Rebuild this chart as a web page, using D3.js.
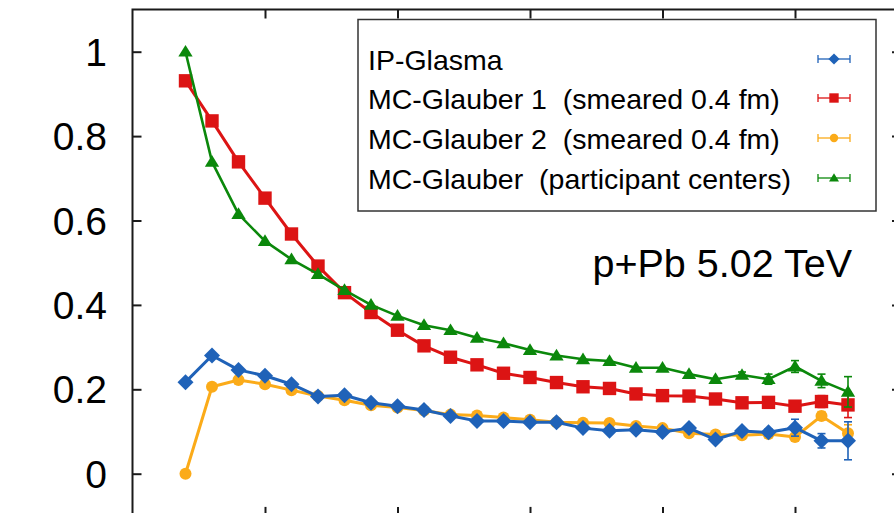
<!DOCTYPE html>
<html>
<head>
<meta charset="utf-8">
<script src="https://cdn.jsdelivr.net/npm/d3@7"></script>
<style>
  html, body { margin: 0; padding: 0; background: #fff; }
  svg { display: block; font-family: "Liberation Sans", Arial, Helvetica, sans-serif; }
</style>
</head>
<body>
<svg id="chart" width="894" height="513"></svg>
<script>
// Multiplicity bins along the horizontal axis
const bins = [2, 3, 4, 5, 6, 7, 8, 9, 10, 11, 12, 13, 14, 15, 16, 17, 18, 19, 20, 21, 22, 23, 24, 25, 26, 27];

const ipGlasma = [0.217, 0.280, 0.246, 0.232, 0.212, 0.183, 0.186, 0.168, 0.160, 0.151, 0.137, 0.125, 0.125, 0.122, 0.122, 0.108, 0.102, 0.104, 0.099, 0.108, 0.081, 0.101, 0.098, 0.109, 0.078, 0.078];
const ipGlasmaErr = [0, 0, 0, 0, 0, 0, 0, 0, 0, 0, 0, 0, 0, 0, 0, 0, 0, 0, 0, 0.006, 0, 0.006, 0.008, 0.020, 0.017, 0.045];

const glauber1 = [0.931, 0.836, 0.739, 0.653, 0.568, 0.492, 0.429, 0.382, 0.340, 0.303, 0.276, 0.258, 0.238, 0.228, 0.216, 0.206, 0.202, 0.189, 0.185, 0.184, 0.177, 0.168, 0.169, 0.160, 0.171, 0.163];
const glauber1Err = [0, 0, 0, 0, 0, 0, 0, 0, 0, 0, 0, 0, 0, 0, 0, 0, 0, 0, 0, 0, 0, 0, 0, 0.008, 0.014, 0.030];

const glauber2 = [0.000, 0.206, 0.222, 0.212, 0.198, 0.184, 0.174, 0.162, 0.157, 0.150, 0.140, 0.138, 0.133, 0.128, 0.122, 0.121, 0.120, 0.113, 0.108, 0.096, 0.093, 0.091, 0.094, 0.087, 0.137, 0.096];
const glauber2Err = [0, 0, 0, 0, 0, 0, 0, 0, 0, 0, 0, 0, 0, 0, 0, 0, 0, 0, 0, 0, 0, 0, 0, 0, 0.010, 0.020];

const glauberPart = [1.000, 0.739, 0.615, 0.551, 0.508, 0.473, 0.435, 0.400, 0.374, 0.352, 0.340, 0.322, 0.309, 0.293, 0.280, 0.271, 0.267, 0.251, 0.251, 0.236, 0.224, 0.234, 0.224, 0.254, 0.220, 0.194];
const glauberPartErr = [0, 0, 0, 0, 0, 0, 0, 0, 0, 0, 0, 0, 0, 0, 0, 0, 0, 0, 0, 0, 0, 0.007, 0.012, 0.014, 0.016, 0.036];

const yTicks = [0, 0.2, 0.4, 0.6, 0.8, 1];
const yTickLabels = ["0", "0.2", "0.4", "0.6", "0.8", "1"];
const xTicks = [5, 10, 15, 20, 25];

const legendLabels = [
  "IP-Glasma",
  "MC-Glauber 1  (smeared 0.4 fm)",
  "MC-Glauber 2  (smeared 0.4 fm)",
  "MC-Glauber  (participant centers)"
];
const annotation = "p+Pb 5.02 TeV";

const series = [
  { name: legendLabels[0], values: ipGlasma, err: ipGlasmaErr, color: "#1f62b8", shape: "diamond" },
  { name: legendLabels[1], values: glauber1, err: glauber1Err, color: "#dc1414", shape: "square" },
  { name: legendLabels[2], values: glauber2, err: glauber2Err, color: "#fbab19", shape: "circle" },
  { name: legendLabels[3], values: glauberPart, err: glauberPartErr, color: "#0b880b", shape: "triangle" }
];
// paint order: orange underneath, blue over it, then red, green on top
const drawOrder = [2, 0, 1, 3];

const svg = d3.select("#chart");
const x = d3.scaleLinear().domain([0, 29]).range([132.5, 901]);
const y = d3.scaleLinear().domain([-0.1, 1.1]).range([515.9, 9.5]);

function shapePath(shape, s) {
  if (shape === "diamond") return `M0,${-s}L${s},0L0,${s}L${-s},0Z`;
  if (shape === "square") return `M${-s},${-s}H${s}V${s}H${-s}Z`;
  if (shape === "triangle") return `M0,${-s * 1.05}L${s * 1.1},${s * 0.75}L${-s * 1.1},${s * 0.75}Z`;
  return d3.arc()({ innerRadius: 0, outerRadius: s, startAngle: 0, endAngle: 2 * Math.PI });
}
const markerSize = { diamond: 8, square: 6.7, circle: 6, triangle: 6.5 };

// frame
const frame = svg.append("g").attr("stroke", "#1a1a1a").attr("stroke-width", 2).attr("fill", "none");
frame.append("rect")
  .attr("x", x(0)).attr("y", y(1.1))
  .attr("width", x(29) - x(0)).attr("height", y(-0.1) - y(1.1));

// axis ticks on all four sides, pointing inward
const yAxisL = d3.axisRight(y).tickValues(yTicks).tickSize(9).tickFormat("");
const gL = svg.append("g").attr("transform", `translate(${x(0)},0)`).call(yAxisL);
const yAxisR = d3.axisLeft(y).tickValues(yTicks).tickSize(9).tickFormat("");
const gR = svg.append("g").attr("transform", `translate(${x(29)},0)`).call(yAxisR);
const xAxisT = d3.axisBottom(x).tickValues(xTicks).tickSize(9).tickFormat("");
const gT = svg.append("g").attr("transform", `translate(0,${y(1.1)})`).call(xAxisT);
const xAxisB = d3.axisTop(x).tickValues(xTicks).tickSize(9).tickFormat("");
const gB = svg.append("g").attr("transform", `translate(0,${y(-0.1)})`).call(xAxisB);
[gL, gR, gT, gB].forEach(g => {
  g.select(".domain").remove();
  g.selectAll(".tick line").attr("stroke", "#1a1a1a").attr("stroke-width", 2);
});

// y tick labels
svg.append("g").selectAll("text").data(yTicks).join("text")
  .attr("x", 107)
  .attr("y", d => y(d))
  .attr("dy", "0.36em")
  .attr("text-anchor", "end")
  .attr("font-size", 39)
  .attr("fill", "#000")
  .text((d, i) => yTickLabels[i]);

// data series
const line = d3.line().x(d => x(d.x)).y(d => y(d.v));
drawOrder.forEach(k => {
  const s = series[k];
  const pts = bins.map((b, i) => ({ x: b, v: s.values[i], e: s.err[i] }));
  const g = svg.append("g");
  g.append("path").datum(pts)
    .attr("d", line)
    .attr("fill", "none")
    .attr("stroke", s.color)
    .attr("stroke-width", s.shape === "triangle" ? 2.6 : 3)
    .attr("stroke-linejoin", "round");
  const eb = g.append("g").attr("stroke", s.color).attr("stroke-width", 1.6);
  pts.filter(p => p.e > 0).forEach(p => {
    eb.append("line").attr("x1", x(p.x)).attr("x2", x(p.x)).attr("y1", y(p.v - p.e)).attr("y2", y(p.v + p.e));
    eb.append("line").attr("x1", x(p.x) - 4).attr("x2", x(p.x) + 4).attr("y1", y(p.v - p.e)).attr("y2", y(p.v - p.e));
    eb.append("line").attr("x1", x(p.x) - 4).attr("x2", x(p.x) + 4).attr("y1", y(p.v + p.e)).attr("y2", y(p.v + p.e));
  });
  g.selectAll("path.mk").data(pts).join("path")
    .attr("class", "mk")
    .attr("transform", p => `translate(${x(p.x)},${y(p.v)})`)
    .attr("d", shapePath(s.shape, markerSize[s.shape]))
    .attr("fill", s.color);
});

// legend
const lg = svg.append("g");
lg.append("rect")
  .attr("x", 358).attr("y", 19.5).attr("width", 518).attr("height", 191.5)
  .attr("fill", "#fff").attr("stroke", "#333").attr("stroke-width", 1.5);
const rowY = [60, 99, 139, 179];
series.forEach((s, i) => {
  lg.append("text")
    .attr("x", 368).attr("y", rowY[i]).attr("dy", "0.35em")
    .attr("font-size", 28.5).attr("fill", "#000")
    .style("white-space", "pre")
    .text(s.name);
  const cx = 834, cy = rowY[i] - 1;
  const sg = lg.append("g").attr("stroke", s.color).attr("stroke-width", 1.3);
  sg.append("line").attr("x1", cx - 16).attr("x2", cx + 16).attr("y1", cy).attr("y2", cy);
  sg.append("line").attr("x1", cx - 16).attr("x2", cx - 16).attr("y1", cy - 4).attr("y2", cy + 4);
  sg.append("line").attr("x1", cx + 16).attr("x2", cx + 16).attr("y1", cy - 4).attr("y2", cy + 4);
  lg.append("path")
    .attr("transform", `translate(${cx},${cy})`)
    .attr("d", shapePath(s.shape, markerSize[s.shape] * 0.7))
    .attr("fill", s.color);
});

// collision system label
svg.append("text")
  .attr("x", 852).attr("y", 277)
  .attr("text-anchor", "end")
  .attr("font-size", 39.5)
  .attr("fill", "#000")
  .text(annotation);
</script>
</body>
</html>
